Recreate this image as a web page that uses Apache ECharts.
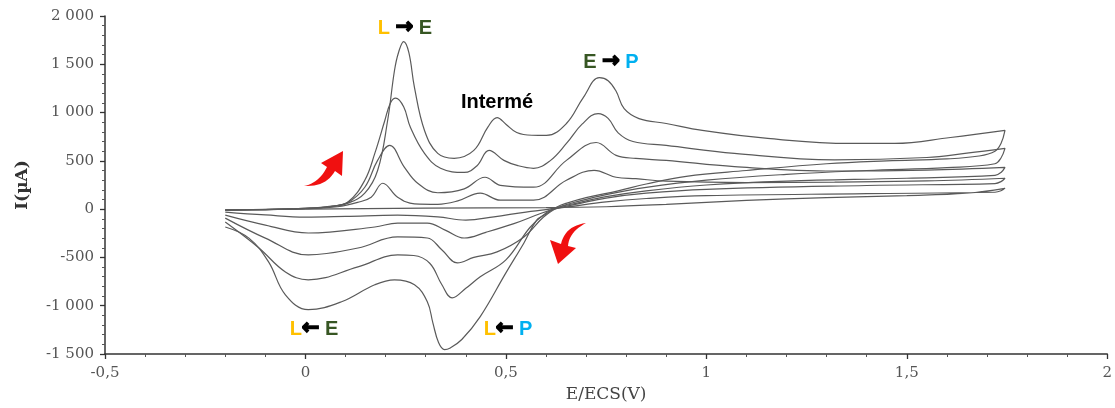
<!DOCTYPE html>
<html>
<head>
<meta charset="utf-8">
<script src="https://cdn.jsdelivr.net/npm/echarts@6/dist/echarts.min.js"></script>
<style>
  html, body { margin: 0; padding: 0; background: #fff; }
  #chart { width: 1115px; height: 408px; }
</style>
</head>
<body>
<div id="chart"></div>
<script>
// Cyclic voltammograms, five scans of increasing amplitude.
// Each scan: forward sweep (-0.2 V -> 1.745 V) then reverse sweep back to -0.2 V.
// Points are [E (V vs ECS), I (µA)].

const scan1Forward = [[-0.2,-8],[-0.1,-3],[0,8],[0.06,25],[0.106,62],[0.148,165],[0.18,400],[0.205,918],[0.222,1433],[0.232,1620],[0.245,1735],[0.258,1620],[0.272,1258],[0.297,815],[0.33,577],[0.371,526],[0.42,608],[0.455,850],[0.478,948],[0.5,880],[0.527,794],[0.565,765],[0.601,763],[0.651,887],[0.693,1155],[0.733,1361],[0.755,1330],[0.775,1220],[0.795,1040],[0.832,938],[0.9,887],[0.99,815],[1.153,732],[1.36,680],[1.47,680],[1.609,742],[1.745,815]];
const scan1Reverse = [[1.745,815],[1.735,680],[1.72,600],[1.68,550],[1.6,520],[1.45,500],[1.3,470],[1.1,400],[0.95,340],[0.85,260],[0.78,190],[0.7,120],[0.65,60],[0.626,20],[0.6,-50],[0.577,-113],[0.545,-350],[0.5,-660],[0.436,-1113],[0.39,-1350],[0.36,-1440],[0.347,-1454],[0.332,-1380],[0.318,-1180],[0.304,-959],[0.272,-783],[0.222,-732],[0.173,-783],[0.09,-959],[0.007,-1041],[-0.05,-887],[-0.092,-546],[-0.141,-300],[-0.2,-185]];

const scan2Forward = [[-0.2,-10],[-0.1,-4],[0,8],[0.06,28],[0.106,75],[0.148,299],[0.173,577],[0.198,918],[0.212,1100],[0.225,1150],[0.245,1060],[0.262,845],[0.297,577],[0.337,423],[0.396,380],[0.428,450],[0.458,608],[0.495,505],[0.53,450],[0.569,423],[0.61,500],[0.651,680],[0.69,880],[0.73,990],[0.755,940],[0.78,790],[0.817,700],[0.9,660],[1.07,577],[1.32,510],[1.55,535],[1.65,580],[1.745,629]];
const scan2Reverse = [[1.745,629],[1.735,530],[1.72,470],[1.6,430],[1.4,400],[1.2,360],[1.0,300],[0.85,225],[0.75,150],[0.68,80],[0.63,20],[0.6,-40],[0.56,-190],[0.5,-525],[0.436,-700],[0.4,-820],[0.366,-918],[0.34,-780],[0.31,-560],[0.27,-480],[0.23,-474],[0.131,-598],[0.007,-732],[-0.05,-650],[-0.116,-402],[-0.2,-134]];

const scan3Forward = [[-0.2,-10],[-0.1,-4],[0,8],[0.06,25],[0.106,70],[0.148,227],[0.18,505],[0.21,660],[0.247,433],[0.28,268],[0.33,170],[0.396,210],[0.448,330],[0.486,247],[0.569,227],[0.651,505],[0.725,690],[0.775,557],[0.824,525],[0.9,505],[1.07,440],[1.32,395],[1.55,405],[1.745,433]];
const scan3Reverse = [[1.745,433],[1.735,380],[1.72,350],[1.5,320],[1.2,290],[1.0,250],[0.85,190],[0.75,130],[0.68,65],[0.63,15],[0.594,-82],[0.545,-288],[0.478,-443],[0.42,-500],[0.379,-557],[0.34,-420],[0.304,-299],[0.23,-288],[0.131,-402],[0.007,-474],[-0.1,-300],[-0.2,-93]];

const scan4Forward = [[-0.2,-10],[-0.1,-4],[0,5],[0.08,25],[0.13,70],[0.164,124],[0.193,268],[0.23,124],[0.272,55],[0.33,50],[0.38,85],[0.436,165],[0.486,93],[0.569,93],[0.651,299],[0.72,402],[0.775,330],[0.824,315],[0.9,290],[1.1,275],[1.32,280],[1.55,292],[1.745,320]];
const scan4Reverse = [[1.745,320],[1.735,285],[1.72,265],[1.4,245],[1.0,205],[0.85,165],[0.75,115],[0.68,55],[0.63,10],[0.59,-40],[0.52,-150],[0.45,-240],[0.396,-299],[0.35,-220],[0.304,-144],[0.23,-144],[0.173,-185],[0.007,-247],[-0.1,-165],[-0.2,-62]];

const scan5Forward = [[-0.2,-10],[0,0],[0.3,10],[0.6,15],[0.75,25],[0.9,50],[1.1,90],[1.3,120],[1.5,140],[1.65,165],[1.745,216]];
const scan5Reverse = [[1.745,216],[1.735,190],[1.72,175],[1.4,160],[1.0,140],[0.85,110],[0.75,75],[0.65,20],[0.55,-30],[0.47,-80],[0.4,-113],[0.33,-80],[0.23,-62],[0.1,-75],[0.0,-82],[-0.1,-60],[-0.2,-30]];

// Axis tick labels (French number formatting)
const xTickValues = [-0.5, 0, 0.5, 1, 1.5, 2];
const xTickLabels = ['-0,5', '0', '0,5', '1', '1,5', '2'];
const yTickValues = [-1500, -1000, -500, 0, 500, 1000, 1500, 2000];
const yTickLabels = ['-1 500', '-1 000', '-500', '0', '500', '1 000', '1 500', '2 000'];

const scans = [
  [scan1Forward, scan1Reverse],
  [scan2Forward, scan2Reverse],
  [scan3Forward, scan3Reverse],
  [scan4Forward, scan4Reverse],
  [scan5Forward, scan5Reverse]
];

function tickLabel(values, labels) {
  return function (v) {
    for (let i = 0; i < values.length; i++) {
      if (Math.abs(values[i] - v) < 1e-9) return labels[i];
    }
    return '';
  };
}

// Outline of a curved arrow built from straight and quadratic segments.
// segs: list of ['L', x, y] or ['Q', cx, cy, x, y], starting from start.
function outline(start, segs) {
  const pts = [start.slice()];
  let cur = start.slice();
  segs.forEach(function (s) {
    if (s[0] === 'L') {
      cur = [s[1], s[2]];
      pts.push(cur);
    } else {
      const c = [s[1], s[2]], e = [s[3], s[4]], p0 = cur;
      for (let k = 1; k <= 12; k++) {
        const t = k / 12, u = 1 - t;
        pts.push([u * u * p0[0] + 2 * u * t * c[0] + t * t * e[0],
                  u * u * p0[1] + 2 * u * t * c[1] + t * t * e[1]]);
      }
      cur = e;
    }
  });
  return pts;
}

const chart = echarts.init(document.getElementById('chart'), null, { renderer: 'canvas' });

const serif = '"DejaVu Serif", "Liberation Serif", serif';
const sans = '"Liberation Sans", Arial, "DejaVu Sans", sans-serif';
const axisColor = '#333';

const series = scans.map(function (s, i) {
  return {
    name: 'scan ' + (i + 1),
    type: 'line',
    data: s[0].concat(s[1].slice(1)),
    showSymbol: false,
    smooth: 0.4,
    lineStyle: { color: '#5a5a5a', width: 1.2 },
    emphasis: { disabled: true },
    z: 2
  };
});

const orange = '#FFC000';
const green = '#375623';
const blue = '#00B0F0';
const richStyles = {
  l: { fill: orange, font: 'bold 20px ' + sans },
  e: { fill: green, font: 'bold 20px ' + sans },
  p: { fill: blue, font: 'bold 20px ' + sans },
  a: { fill: '#000', stroke: '#000', lineWidth: 1.6, font: 'bold 21px "DejaVu Sans", sans-serif' }
};

function label(x, y, text) {
  return {
    type: 'text',
    x: x, y: y, z: 10,
    style: {
      text: text,
      rich: richStyles,
      align: 'center',
      verticalAlign: 'middle',
      font: 'bold 20px ' + sans,
      fill: '#000'
    }
  };
}

const arrowUp = outline([304, 186], [['Q', 319, 183, 327, 167], ['L', 321, 163], ['L', 343, 151], ['L', 342, 176], ['L', 335, 171], ['Q', 326, 187, 304, 186]]);
const arrowDown = outline([586, 223], [['Q', 565, 226, 561, 244], ['L', 550, 240], ['L', 558, 264], ['L', 576, 248], ['L', 568, 246], ['Q', 569, 232, 586, 223]]);

chart.setOption({
  animation: false,
  backgroundColor: '#fff',
  grid: { left: 105, right: 2, top: 16, bottom: 54, containLabel: false },
  xAxis: {
    type: 'value',
    min: -0.5, max: 2, interval: 0.5,
    name: 'E/ECS(V)',
    nameLocation: 'middle',
    nameGap: 30,
    nameTextStyle: { fontFamily: serif, fontSize: 17, color: '#444' },
    axisLine: { show: true, onZero: false, lineStyle: { color: axisColor, width: 1.5 } },
    axisTick: { show: true, inside: false, length: 5, lineStyle: { color: axisColor, width: 1.3 } },
    minorTick: { show: true, splitNumber: 5, length: 3, lineStyle: { color: '#555', width: 1 } },
    splitLine: { show: false },
    axisLabel: {
      margin: 12,
      fontFamily: serif, fontSize: 15, color: '#555',
      formatter: tickLabel(xTickValues, xTickLabels)
    }
  },
  yAxis: {
    type: 'value',
    min: -1500, max: 2000, interval: 500,
    name: 'I(µA)',
    nameLocation: 'middle',
    nameGap: 74,
    nameTextStyle: { fontFamily: serif, fontSize: 17, fontWeight: 'bold', color: '#333' },
    axisLine: { show: true, onZero: false, lineStyle: { color: axisColor, width: 1.5 } },
    axisTick: { show: true, inside: false, length: 5, lineStyle: { color: axisColor, width: 1.3 } },
    minorTick: { show: true, splitNumber: 5, length: 3, lineStyle: { color: '#555', width: 1 } },
    splitLine: { show: false },
    axisLabel: {
      margin: 11,
      fontFamily: serif, fontSize: 15, color: '#555',
      formatter: tickLabel(yTickValues, yTickLabels)
    }
  },
  series: series,
  graphic: [
    label(405, 28, '{l|L} {a|→} {e|E}'),
    label(611, 62, '{e|E} {a|→} {p|P}'),
    label(497, 102, 'Intermé'),
    label(314, 329, '{l|L}{a|←} {e|E}'),
    label(508, 329, '{l|L}{a|←} {p|P}'),
    // red sweep-direction arrows
    { type: 'polygon', z: 10, shape: { points: arrowUp }, style: { fill: '#F01010' } },
    { type: 'polygon', z: 10, shape: { points: arrowDown }, style: { fill: '#F01010' } }
  ]
});
</script>
</body>
</html>
